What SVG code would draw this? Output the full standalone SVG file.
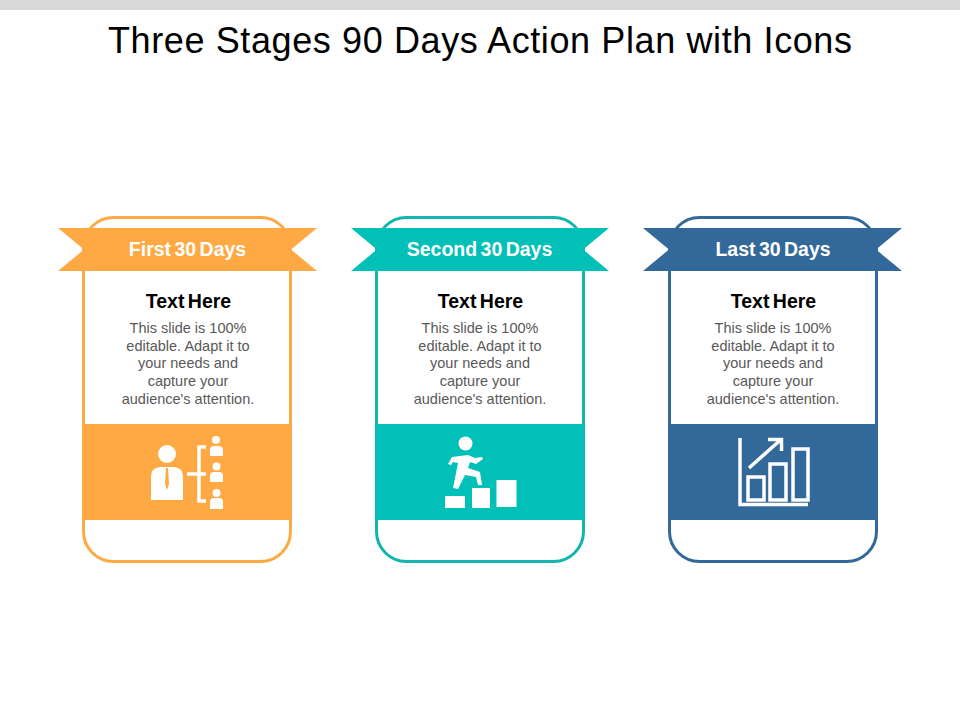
<svg xmlns="http://www.w3.org/2000/svg" width="960" height="720" viewBox="0 0 960 720">
<style>
text{font-family:"Liberation Sans",Arial,sans-serif;text-anchor:middle}
.title{font-size:36px;fill:#000}
.rib{font-size:19.500px;font-weight:bold;fill:#fff;word-spacing:-2px}
.head{font-size:19.500px;font-weight:bold;fill:#000;word-spacing:-2px}
.body{font-size:14.500px;fill:#595959}
.card{fill:#fff;stroke-width:3}
.w{fill:#fff}
.l{fill:none;stroke:#fff;stroke-width:3.500}
</style>
<rect x="0" y="0" width="960" height="10" fill="#d9d9d9"/>
<text class="title" x="480" y="53" textLength="744" lengthAdjust="spacing">Three Stages 90 Days Action Plan with Icons</text>

<g id="stage1">
<rect class="card" x="83.500" y="217.500" width="207" height="344" rx="30" stroke="#ffa944"/>
<rect x="83" y="424" width="208" height="96" fill="#ffa944"/>
<path d="M58 228H317L291 249.500L317 271H58L84 249.500Z" fill="#ffa944"/>
<text class="rib" x="187.500" y="256">First 30 Days</text>
<text class="head" x="188.500" y="308">Text Here</text>
<text class="body"><tspan x="188" y="333">This slide is 100%</tspan><tspan x="188" y="351">editable. Adapt it to</tspan><tspan x="188" y="368">your needs and</tspan><tspan x="188" y="386">capture your</tspan><tspan x="188" y="404">audience's attention.</tspan></text>
<circle class="w" cx="167" cy="454" r="9"/>
<path class="w" d="M151 500V476Q151 468 160 467H174Q183 468 183 476V500Z"/>
<path d="M166 468H168L169 484L167 490L165 484Z" fill="#ffa944"/>
<path class="l" d="M206 447H199V501H206M187 474H206"/>
<circle class="w" cx="216" cy="440" r="4"/>
<path class="w" d="M210 456V450Q210 446 214 446H218Q223 446 223 450V456Z"/>
<circle class="w" cx="216.500" cy="466.500" r="4"/>
<path class="w" d="M210 482V476Q210 472 214 472H219Q223 472 223 476V482Z"/>
<circle class="w" cx="216.500" cy="493" r="4"/>
<path class="w" d="M210 509V502Q210 498 214 498H219Q223 498 223 502V509Z"/>
</g>

<g id="stage2">
<rect class="card" x="376.500" y="217.500" width="207" height="344" rx="30" stroke="#12b5b0"/>
<rect x="376" y="424" width="208" height="96" fill="#00c0b8"/>
<path d="M351 228H609L583 249.500L609 271H351L377 249.500Z" fill="#00c0b8"/>
<text class="rib" x="479.500" y="256">Second 30 Days</text>
<text class="head" x="480.500" y="308">Text Here</text>
<text class="body"><tspan x="480" y="333">This slide is 100%</tspan><tspan x="480" y="351">editable. Adapt it to</tspan><tspan x="480" y="368">your needs and</tspan><tspan x="480" y="386">capture your</tspan><tspan x="480" y="404">audience's attention.</tspan></text>
<circle class="w" cx="465.500" cy="443.500" r="7"/>
<path class="w" d="M448 464L452 457L468 455L475 458L482 457L483 459L476 464L470 462L468 468L480 472L482 485H478L476 477L465 475L458 489L453 488L458 463L453 462L451 465Z"/>
<rect class="w" x="445" y="496" width="20" height="12"/>
<rect class="w" x="472" y="488" width="18" height="20"/>
<rect class="w" x="496.500" y="480" width="20" height="27"/>
</g>

<g id="stage3">
<rect class="card" x="669.500" y="217.500" width="207" height="344" rx="30" stroke="#33689a"/>
<rect x="669" y="424" width="209" height="96" fill="#33689a"/>
<path d="M643 228H902L876 249.500L902 271H643L669 249.500Z" fill="#33689a"/>
<text class="rib" x="773" y="256">Last 30 Days</text>
<text class="head" x="773.500" y="308">Text Here</text>
<text class="body"><tspan x="773" y="333">This slide is 100%</tspan><tspan x="773" y="351">editable. Adapt it to</tspan><tspan x="773" y="368">your needs and</tspan><tspan x="773" y="386">capture your</tspan><tspan x="773" y="404">audience's attention.</tspan></text>
<path class="l" d="M740 438V504.500H808"/>
<rect class="l" x="748" y="477" width="16" height="23"/>
<rect class="l" x="770" y="464" width="16" height="36"/>
<rect class="l" x="793" y="449" width="15" height="51"/>
<path class="l" d="M749 468L781 439.500M768 439.500H781.500V451"/>
</g>
</svg>
